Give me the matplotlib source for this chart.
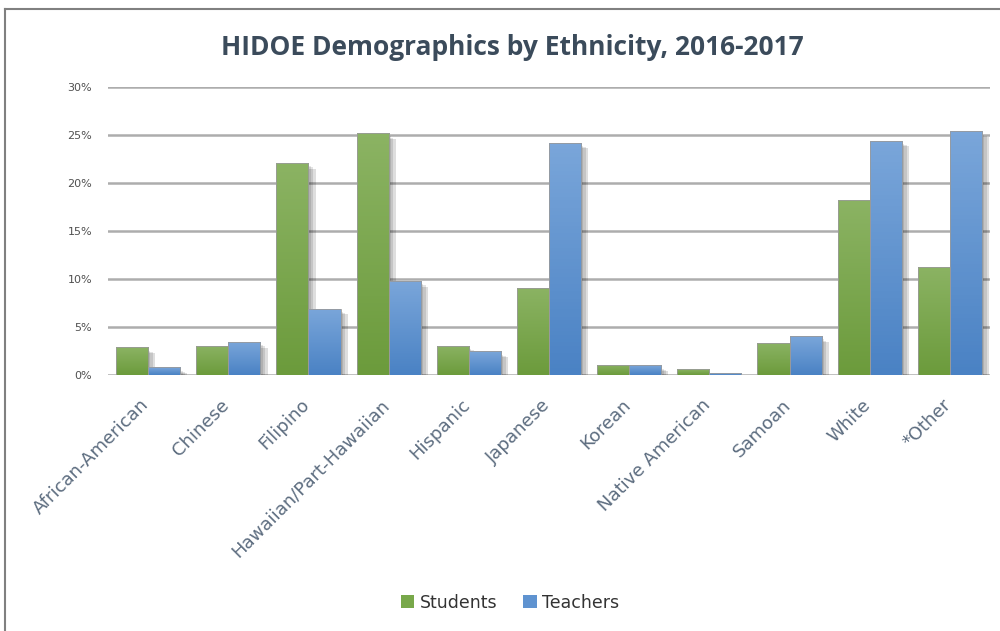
import numpy as np
import matplotlib
matplotlib.use('Agg')
import matplotlib.pyplot as plt
import matplotlib.transforms as mtransforms
from matplotlib.patches import Rectangle
from matplotlib.lines import Line2D
from matplotlib.colors import LinearSegmentedColormap

categories = ['African-American', 'Chinese', 'Filipino', 'Hawaiian/Part-Hawaiian',
              'Hispanic', 'Japanese', 'Korean', 'Native American', 'Samoan',
              'White', '*Other']
students = [2.9, 3.05, 22.1, 25.2, 3.05, 9.1, 1.05, 0.6, 3.3, 18.2, 11.3]
teachers = [0.8, 3.45, 6.9, 9.8, 2.45, 24.2, 1.0, 0.2, 4.05, 24.4, 25.4]
yticks = [0, 5, 10, 15, 20, 25, 30]

green_cmap = LinearSegmentedColormap.from_list('g', ['#6c9b3c', '#8bb363'])
blue_cmap = LinearSegmentedColormap.from_list('b', ['#4a82c4', '#7aa6da'])

fig = plt.figure(figsize=(10, 6.31), dpi=100)
ax = fig.add_axes([0.108, 0.4057, 0.882, 0.4564])

grad = np.linspace(0, 1, 64).reshape(-1, 1)
x = np.arange(len(categories))
w = 0.4


def draw_bars(xs, vals, cmap):
    for xi, v in zip(xs, vals):
        # soft drop shadow
        for k, a in enumerate([0.10, 0.11, 0.13]):
            off = 0.03 + 0.03 * k
            ax.add_patch(Rectangle((xi + off, 0), w, max(v - 0.35 - 0.12 * k, 0),
                                   facecolor='black', alpha=a, lw=0, zorder=2))
        rect = Rectangle((xi, 0), w, v, facecolor='none', edgecolor='#9a9a9a',
                         lw=0.6, zorder=4)
        ax.add_patch(rect)
        im = ax.imshow(grad, cmap=cmap, aspect='auto', origin='lower',
                       extent=(xi, xi + w, 0, v), zorder=3)
        im.set_clip_path(rect)


draw_bars(x - w, students, green_cmap)
draw_bars(x, teachers, blue_cmap)

ax.set_xlim(-0.5, len(categories) - 0.5)
ax.set_ylim(0, 30)
ax.set_yticks(yticks)
ax.set_yticklabels(['{}%'.format(t) for t in yticks], fontsize=8, color='#505050')
for t in yticks:
    ax.axhline(t, color='#adadad', lw=1.8, zorder=1)
ax.set_xticks(x)
ax.set_xticklabels(categories, rotation=45, ha='right', rotation_mode='anchor',
                   fontsize=13, color='#5d6d80')
ax.tick_params(axis='x', length=0, pad=15)
ax.tick_params(axis='y', length=0, pad=11.5)
shift = mtransforms.ScaledTranslation(-8 / 100, 0, fig.dpi_scale_trans)
for lbl in ax.get_xticklabels():
    lbl.set_transform(lbl.get_transform() + shift)
for s in ax.spines.values():
    s.set_visible(False)

fig.text(0.512, 0.925, 'HIDOE Demographics by Ethnicity, 2016-2017', ha='center',
         va='center', fontsize=19, fontweight='bold', color='#3b4b5b',
         family='Open Sans')

handles = [Rectangle((0, 0), 1, 1, facecolor='#78a84a'),
           Rectangle((0, 0), 1, 1, facecolor='#5f93d0')]
fig.legend(handles, ['Students', 'Teachers'], loc='center', ncol=2,
           bbox_to_anchor=(0.51, 0.045), frameon=False, fontsize=12.5,
           handlelength=0.8, handleheight=0.8, handletextpad=0.3,
           columnspacing=1.5, labelcolor='#333333')

# outer frame
fig.add_artist(Line2D([0.005, 0.005], [0, 0.986], color='#808080', lw=1.5,
                      transform=fig.transFigure))
fig.add_artist(Line2D([0.005, 1.0], [0.986, 0.986], color='#808080', lw=1.5,
                      transform=fig.transFigure))

fig.savefig('out.png', dpi=100)
